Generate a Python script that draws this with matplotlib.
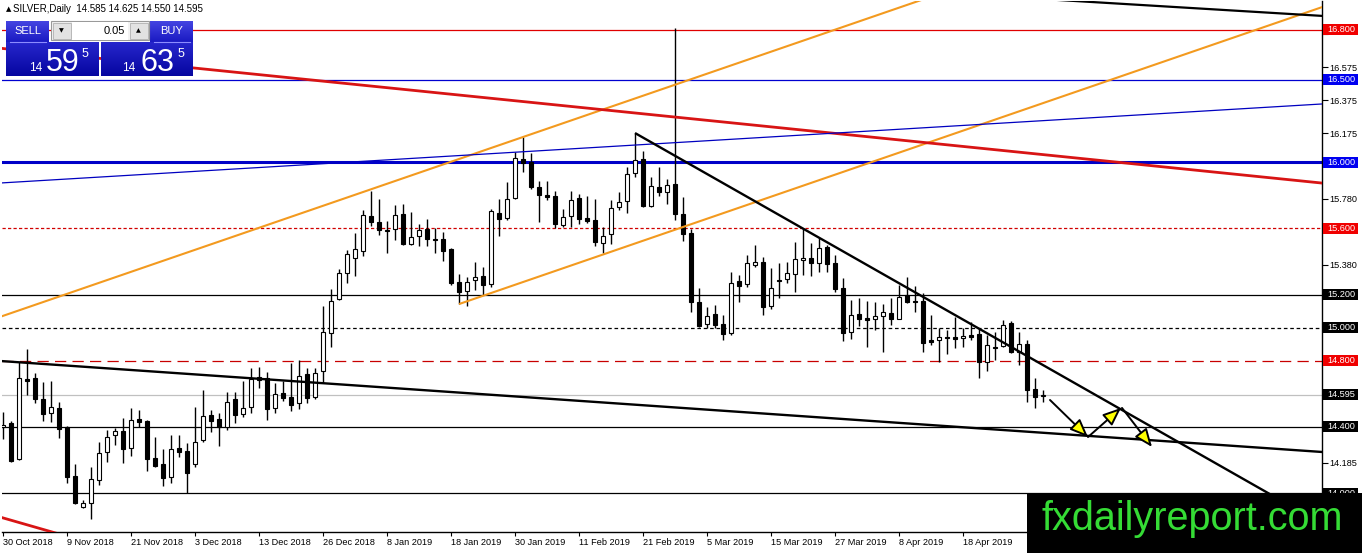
import matplotlib
matplotlib.use("Agg")
import matplotlib.pyplot as plt
import matplotlib.transforms as mtransforms
from matplotlib.patches import Rectangle, FancyArrowPatch
from matplotlib.colors import to_rgb
import numpy as np

plt.rcParams['font.family'] = ['Liberation Sans', 'DejaVu Sans']

# ---------------- data ----------------
symbol_title = "SILVER,Daily  14.585 14.625 14.550 14.595"
date_ticks = [0, 8, 16, 24, 32, 40, 48, 56, 64, 72, 80, 88, 96, 104, 112, 120]
date_labels = ["30 Oct 2018", "9 Nov 2018", "21 Nov 2018", "3 Dec 2018", "13 Dec 2018",
               "26 Dec 2018", "8 Jan 2019", "18 Jan 2019", "30 Jan 2019", "11 Feb 2019",
               "21 Feb 2019", "5 Mar 2019", "15 Mar 2019", "27 Mar 2019", "8 Apr 2019",
               "18 Apr 2019"]

opens = [14.400, 14.424, 14.206, 14.690, 14.696, 14.569, 14.484, 14.515, 14.400, 14.104,
         13.916, 13.940, 14.079, 14.249, 14.351, 14.376, 14.273, 14.448, 14.436, 14.212,
         14.176, 14.097, 14.273, 14.255, 14.176, 14.321, 14.472, 14.448, 14.400, 14.569,
         14.478, 14.521, 14.684, 14.696, 14.515, 14.605, 14.581, 14.545, 14.720, 14.581,
         14.738, 14.968, 15.174, 15.331, 15.422, 15.464, 15.675, 15.639, 15.591, 15.597,
         15.688, 15.506, 15.555, 15.597, 15.536, 15.536, 15.476, 15.276, 15.222, 15.288,
         15.313, 15.264, 15.694, 15.663, 15.784, 16.020, 16.002, 15.851, 15.802, 15.796,
         15.621, 15.675, 15.784, 15.663, 15.651, 15.512, 15.567, 15.730, 15.766, 15.935,
         16.020, 15.736, 15.851, 15.821, 15.869, 15.688, 15.573, 15.155, 15.022, 15.083,
         15.022, 14.968, 15.282, 15.264, 15.379, 15.397, 15.131, 15.288, 15.295, 15.325,
         15.409, 15.422, 15.391, 15.488, 15.391, 15.240, 14.974, 15.083, 15.059, 15.053,
         15.071, 15.089, 15.053, 15.198, 15.162, 15.162, 14.926, 14.926, 14.944, 14.944,
         14.938, 14.956, 14.962, 14.793, 14.883, 14.889, 15.029, 14.853, 14.902, 14.630,
         14.585]
highs = [14.490, 14.436, 14.793, 14.871, 14.726, 14.672, 14.678, 14.551, 14.406, 14.176,
         13.958, 14.158, 14.309, 14.382, 14.394, 14.454, 14.515, 14.503, 14.442, 14.339,
         14.267, 14.351, 14.351, 14.303, 14.521, 14.623, 14.503, 14.484, 14.611, 14.611,
         14.678, 14.756, 14.763, 14.732, 14.666, 14.678, 14.787, 14.805, 14.756, 14.756,
         15.131, 15.234, 15.355, 15.470, 15.573, 15.712, 15.827, 15.778, 15.645, 15.742,
         15.748, 15.700, 15.627, 15.657, 15.603, 15.579, 15.482, 15.325, 15.307, 15.397,
         15.367, 15.718, 15.778, 15.881, 16.062, 16.153, 16.056, 15.887, 15.887, 15.827,
         15.718, 15.827, 15.808, 15.796, 15.778, 15.609, 15.772, 15.821, 15.972, 16.177,
         16.068, 15.911, 15.972, 15.899, 16.812, 15.790, 15.597, 15.240, 15.125, 15.137,
         15.077, 15.337, 15.319, 15.440, 15.500, 15.428, 15.361, 15.391, 15.397, 15.518,
         15.603, 15.512, 15.542, 15.500, 15.440, 15.301, 15.168, 15.180, 15.162, 15.155,
         15.143, 15.180, 15.258, 15.307, 15.252, 15.210, 15.077, 14.998, 14.986, 15.065,
         14.998, 15.035, 14.998, 14.956, 14.974, 15.047, 15.041, 14.974, 14.926, 14.696,
         14.625]
lows = [14.327, 14.188, 14.200, 14.593, 14.545, 14.436, 14.430, 14.333, 14.061, 13.935,
        13.910, 13.844, 14.049, 14.188, 14.291, 14.182, 14.224, 14.400, 14.134, 14.158,
        14.043, 14.061, 14.218, 14.001, 14.158, 14.309, 14.370, 14.285, 14.382, 14.424,
        14.460, 14.484, 14.636, 14.442, 14.484, 14.557, 14.497, 14.509, 14.545, 14.569,
        14.666, 14.883, 15.168, 15.270, 15.313, 15.434, 15.615, 15.561, 15.452, 15.530,
        15.500, 15.500, 15.494, 15.494, 15.452, 15.403, 15.258, 15.143, 15.131, 15.228,
        15.198, 15.246, 15.555, 15.651, 15.778, 15.941, 15.839, 15.639, 15.772, 15.603,
        15.609, 15.609, 15.627, 15.633, 15.494, 15.452, 15.506, 15.712, 15.694, 15.911,
        15.730, 15.730, 15.796, 15.748, 15.651, 15.524, 15.095, 15.004, 14.998, 14.998,
        14.926, 14.956, 15.155, 15.246, 15.367, 15.077, 15.113, 15.180, 15.270, 15.216,
        15.319, 15.313, 15.337, 15.337, 15.216, 14.920, 14.932, 15.010, 14.883, 14.986,
        14.853, 15.016, 15.050, 15.150, 15.095, 14.853, 14.896, 14.793, 14.841, 14.877,
        14.883, 14.926, 14.696, 14.738, 14.805, 14.885, 14.850, 14.775, 14.551, 14.515,
        14.550]
closes = [14.412, 14.194, 14.696, 14.678, 14.569, 14.478, 14.521, 14.388, 14.097, 13.940,
          13.940, 14.085, 14.243, 14.339, 14.376, 14.267, 14.442, 14.430, 14.206, 14.164,
          14.091, 14.267, 14.249, 14.122, 14.309, 14.466, 14.436, 14.400, 14.551, 14.472,
          14.515, 14.690, 14.702, 14.509, 14.599, 14.575, 14.533, 14.708, 14.575, 14.726,
          14.974, 15.162, 15.331, 15.446, 15.476, 15.681, 15.639, 15.591, 15.585, 15.681,
          15.506, 15.549, 15.591, 15.536, 15.533, 15.464, 15.270, 15.216, 15.276, 15.307,
          15.258, 15.706, 15.657, 15.778, 16.026, 15.996, 15.851, 15.802, 15.790, 15.627,
          15.669, 15.772, 15.657, 15.645, 15.518, 15.555, 15.724, 15.760, 15.929, 16.014,
          15.736, 15.857, 15.821, 15.863, 15.688, 15.567, 15.155, 15.010, 15.071, 15.016,
          14.962, 15.270, 15.252, 15.391, 15.397, 15.125, 15.240, 15.282, 15.331, 15.416,
          15.422, 15.391, 15.482, 15.385, 15.234, 14.968, 15.077, 15.053, 15.047, 15.071,
          15.095, 15.053, 15.186, 15.155, 15.158, 14.908, 14.914, 14.944, 14.938, 14.932,
          14.950, 14.944, 14.793, 14.896, 14.880, 15.016, 14.853, 14.902, 14.623, 14.581,
          14.595]

price_ticks = [16.775, 16.575, 16.375, 16.175, 15.975, 15.780, 15.580, 15.380, 15.180,
               14.980, 14.780, 14.585, 14.385, 14.185, 13.985]

level_prices = [16.800, 16.500, 16.000, 15.600, 15.200, 15.000, 14.800, 14.595, 14.400, 14.000]
level_colors = ['#e00000', '#0000d0', '#0000c8', '#d00000', 'black', 'black', '#c80000',
                '#c0c0c0', 'black', 'black']
level_styles = ['-', '-', '-', (0, (2.6, 1.8)), '-', (0, (2.9, 2.2)), (0, (9, 5)), '-', '-', '-']
level_widths = [0.9, 0.9, 2.2, 0.9, 0.9, 0.9, 0.9, 0.9, 0.9, 0.9]
label_bg = ['#f00000', '#0000f0', '#0000f0', '#f00000', 'black', 'black', '#f00000',
            'black', 'black', 'black']

# trend lines: (x0, p0, x1, p1, color, width)
trend_x0 = [-1, 57, 130, -1, -1, -1, -1, 79]
trend_p0 = [15.055, 15.143, 16.987, 16.693, 13.864, 15.873, 14.801, 16.177]
trend_x1 = [120, 166, 166, 166, 8, 166, 166, 162]
trend_p1 = [17.068, 16.957, 16.882, 15.869, 13.739, 16.356, 14.245, 13.894]
trend_colors = ['#f39a1f', '#f39a1f', 'black', '#d81414', '#d81414', '#0000c0', 'black', 'black']
trend_widths = [1.5, 1.5, 1.6, 2.0, 2.0, 0.9, 1.7, 1.7]

# arrows (start index, start price, end index, end price)
arrow_x0 = [130.875, 135.625, 139.875]
arrow_p0 = [14.563, 14.339, 14.515]
arrow_x1 = [135.625, 139.75, 143.625]
arrow_p1 = [14.339, 14.515, 14.279]

# ---------------- figure ----------------
W, H = 1362, 553
fig = plt.figure(figsize=(W / 100, H / 100), dpi=100)
fig.patch.set_facecolor('white')
ax = fig.add_axes([2 / W, 21 / H, 1320 / W, 531 / H])
ax.set_xlim(-0.125, 164.875)
ax.set_ylim(13.7649, 16.9753)
ax.set_facecolor('white')

# horizontal levels
for p, c, s, w in zip(level_prices, level_colors, level_styles, level_widths):
    ax.axhline(p, color=c, linestyle=s, lw=w, zorder=1)

# candles
for i, (o, h, l, c) in enumerate(zip(opens, highs, lows, closes)):
    ax.vlines(i, l, h, color='black', lw=1.0, zorder=3)
    bottom = min(o, c)
    height = max(abs(c - o), 0.004)
    fc = 'white' if c > o else 'black'
    ax.add_patch(Rectangle((i - 0.28, bottom), 0.56, height, facecolor=fc,
                           edgecolor='black', lw=0.8, zorder=4))

# trend lines
for x0, p0, x1, p1, c, w in zip(trend_x0, trend_p0, trend_x1, trend_p1, trend_colors, trend_widths):
    ax.plot([x0, x1], [p0, p1], color=c, lw=w, zorder=5, solid_capstyle='butt')

# arrows
for x0, p0, x1, p1 in zip(arrow_x0, arrow_p0, arrow_x1, arrow_p1):
    ax.add_patch(FancyArrowPatch((x0, p0), (x1, p1),
                                 arrowstyle='-|>,head_length=1.1,head_width=0.45',
                                 mutation_scale=10, facecolor='#ffff00', edgecolor='black',
                                 lw=1.4, shrinkA=0, shrinkB=0, zorder=6))

# axes styling
for s in ['left', 'top']:
    ax.spines[s].set_visible(False)
ax.spines['right'].set_linewidth(1.0)
ax.spines['bottom'].set_linewidth(1.0)
ax.yaxis.tick_right()
ax.set_yticks(price_ticks)
# tick labels hidden behind the coloured level labels are left blank
tick_texts = [("" if min(abs(v - p) for p in level_prices) < 0.045 else f"{v:.3f}")
              for v in price_ticks]
ax.set_yticklabels(tick_texts)
ax.tick_params(axis='y', which='both', left=False, right=True, length=4, width=0.8,
               labelsize=6.6, pad=1.5, direction='out')
ax.set_xticks(date_ticks)
ax.set_xticklabels(date_labels, ha='left')
ax.tick_params(axis='x', length=3, width=0.8, labelsize=6.6, pad=1.5, direction='out')

# price labels on right
trans = mtransforms.blended_transform_factory(ax.transAxes, ax.transData)
px = 1 / 1320
half = 5.5 / 165.4
for p, bg in zip(level_prices, label_bg):
    ax.add_patch(Rectangle((1 + 1.3 * px, p - half), 35 * px, 2 * half, transform=trans,
                           facecolor=bg, edgecolor='none', clip_on=False, zorder=8))
    ax.text(1 + 5.5 * px, p, f"{p:.3f}", transform=trans, color='white', fontsize=6.6,
            va='center', ha='left', clip_on=False, zorder=9)

# ---------------- overlay (panel + watermark) ----------------
ov = fig.add_axes([0, 0, 1, 1], zorder=10)
ov.set_axis_off()


def grad(x0, y0, x1, y1, top, bot):
    c0 = np.array(to_rgb(top))
    c1 = np.array(to_rgb(bot))
    t = np.linspace(0, 1, 64)[:, None]
    img = (c0 * (1 - t) + c1 * t)[:, None, :]
    ov.imshow(img, extent=(x0, x1, y1, y0), aspect='auto', interpolation='bilinear', zorder=1)


grad(6, 21, 49, 42, '#4444e2', '#1a1ac2')
grad(150, 21, 193, 42, '#4444e2', '#1a1ac2')
grad(6, 42, 99, 76, '#2626cc', '#0606a0')
grad(101, 42, 193, 76, '#2626cc', '#0606a0')
ov.set_xlim(0, W)
ov.set_ylim(H, 0)

ov.plot([10, 46], [42, 42], color='#8c8cff', lw=0.8, zorder=2)
ov.plot([154, 190], [42, 42], color='#8c8cff', lw=0.8, zorder=2)

# spinner
ov.add_patch(Rectangle((51, 21), 98, 19, facecolor='#f2f2f2', edgecolor='#9a9a9a', lw=0.8, zorder=2))
ov.add_patch(Rectangle((52.5, 22.5), 18, 16, facecolor='#e2e2e2', edgecolor='#b0b0b0', lw=0.6, zorder=3))
ov.add_patch(Rectangle((129.5, 22.5), 18, 16, facecolor='#e2e2e2', edgecolor='#b0b0b0', lw=0.6, zorder=3))
ov.add_patch(Rectangle((72, 21.5), 56, 18, facecolor='white', edgecolor='none', zorder=3))
ov.text(61.5, 31, "\u25BC", fontsize=4.5, ha='center', va='center', color='black', zorder=4,
        family=['DejaVu Sans'])
ov.text(138.5, 31, "\u25B2", fontsize=4.5, ha='center', va='center', color='black', zorder=4,
        family=['DejaVu Sans'])
ov.text(125, 31, "0.05", fontsize=8, ha='right', va='center', color='black', zorder=4)

ov.text(27.5, 31.5, "SELL", fontsize=8, ha='center', va='center', color='white', zorder=4)
ov.text(171.5, 31.5, "BUY", fontsize=8, ha='center', va='center', color='white', zorder=4)

ov.text(29, 71, "14", fontsize=8.5, ha='left', va='baseline', color='white', zorder=4)
ov.text(46, 71, "59", fontsize=22, ha='left', va='baseline', color='white', zorder=4)
ov.text(82, 48, "5", fontsize=9, ha='left', va='top', color='white', zorder=4)
ov.text(122, 71, "14", fontsize=8.5, ha='left', va='baseline', color='white', zorder=4)
ov.text(140, 71, "63", fontsize=22, ha='left', va='baseline', color='white', zorder=4)
ov.text(178, 48, "5", fontsize=9, ha='left', va='top', color='white', zorder=4)

ov.text(6, 9, "\u25B2", fontsize=5, ha='left', va='center', color='black', zorder=4,
        family=['DejaVu Sans'])
ov.text(13, 9, symbol_title, fontsize=7, ha='left', va='center', color='black', zorder=4)

# watermark
ov.add_patch(Rectangle((1027, 493), 335, 60, facecolor='black', edgecolor='none', zorder=5))
ov.text(1042, 530, "fxdailyreport.com", fontsize=28.5, color='#35dc35', ha='left',
        va='baseline', zorder=6)

fig.savefig("out.png", dpi=100)
